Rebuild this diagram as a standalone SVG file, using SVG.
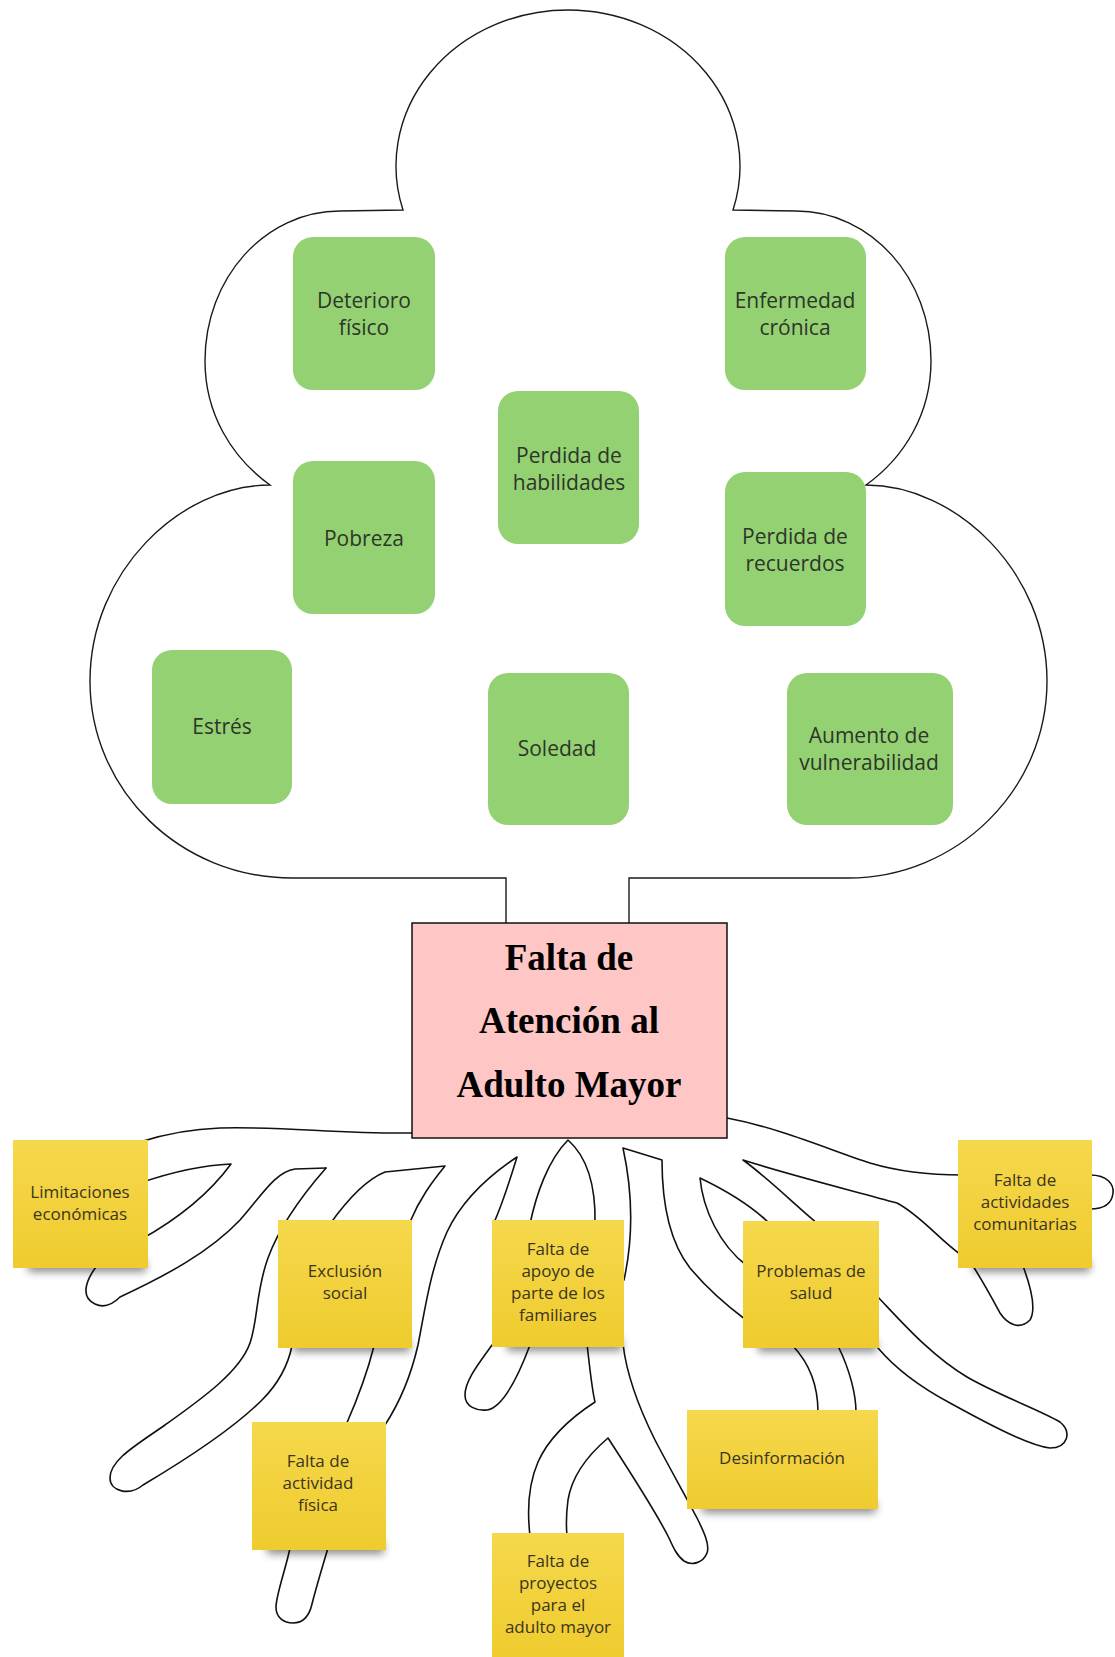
<svg xmlns="http://www.w3.org/2000/svg" width="1115" height="1657" viewBox="0 0 1115 1657">
<style>
.outline{fill:#fff;stroke:#1a1a1a;stroke-width:1.4}
.root{fill:none;stroke:#111;stroke-width:1.6;stroke-linecap:round;stroke-linejoin:round}
.leaf{fill:#94d173}
.lt{font-family:"Open Sans","Liberation Sans",sans-serif;font-size:21px;fill:#2d3629;text-anchor:middle}
.sticky{fill:url(#yg)}
.sh{fill:#000;opacity:0.45;filter:url(#blur)}
.st{font-family:"Open Sans","Liberation Sans",sans-serif;font-size:17px;fill:#3a3520;text-anchor:middle}
.core{fill:#ffc6c6;stroke:#111;stroke-width:1.5}
.ct{font-family:"Liberation Serif","Times New Roman",serif;font-size:37px;font-weight:bold;fill:#000;text-anchor:middle}
</style>
<defs>
<linearGradient id="yg" x1="0" y1="0" x2="0" y2="1">
<stop offset="0" stop-color="#f5d84c"/>
<stop offset="1" stop-color="#efcb2e"/>
</linearGradient>
<filter id="blur" x="-20%" y="-100%" width="140%" height="300%"><feGaussianBlur stdDeviation="4"/></filter>
</defs>
<rect width="1115" height="1657" fill="#fff"/>

<g id="tree-crown">
<path class="outline" d="M506,923 L506,878 L292,878 C180,878 90,790 90,681 C90,572 180,485 270,485 C231,457 205,413 205,361 C205,278 265,211 340,211 L403,210 A172,156 0 1 1 733,210 L796,211 C871,211 931,278 931,361 C931,413 905,457 866,485 C956,485 1047,572 1047,681 C1047,790 957,878 848,878 L629,878 L629,923"/>
</g>

<g id="n-deterioro"><rect class="leaf" x="293" y="237" width="142" height="153" rx="20"/><text class="lt"><tspan x="364" y="308">Deterioro</tspan><tspan x="364" y="335">físico</tspan></text></g>
<g id="n-enfermedad"><rect class="leaf" x="725" y="237" width="141" height="153" rx="20"/><text class="lt"><tspan x="795" y="308">Enfermedad</tspan><tspan x="795" y="335">crónica</tspan></text></g>
<g id="n-habilidades"><rect class="leaf" x="498" y="391" width="141" height="153" rx="20"/><text class="lt"><tspan x="569" y="463">Perdida de</tspan><tspan x="569" y="490">habilidades</tspan></text></g>
<g id="n-pobreza"><rect class="leaf" x="293" y="461" width="142" height="153" rx="20"/><text class="lt"><tspan x="364" y="546">Pobreza</tspan></text></g>
<g id="n-recuerdos"><rect class="leaf" x="725" y="472" width="141" height="154" rx="20"/><text class="lt"><tspan x="795" y="544">Perdida de</tspan><tspan x="795" y="571">recuerdos</tspan></text></g>
<g id="n-estres"><rect class="leaf" x="152" y="650" width="140" height="154" rx="20"/><text class="lt"><tspan x="222" y="734">Estrés</tspan></text></g>
<g id="n-soledad"><rect class="leaf" x="488" y="673" width="141" height="152" rx="20"/><text class="lt"><tspan x="557" y="756">Soledad</tspan></text></g>
<g id="n-vulnerabilidad"><rect class="leaf" x="787" y="673" width="166" height="152" rx="20"/><text class="lt"><tspan x="869" y="743">Aumento de</tspan><tspan x="869" y="770">vulnerabilidad</tspan></text></g>

<g id="connectors">
<path class="root" d="M412,1133 C340,1134 280,1126 220,1128 C190,1129 165,1134 140,1142"/>
<path class="root" d="M140,1183 C175,1171 205,1165 231,1164 C212,1190 185,1215 140,1240"/>
<path class="root" d="M100,1262 C88,1276 78,1296 95,1304 C105,1309 114,1303 120,1297 C165,1276 210,1252 240,1220 C262,1195 275,1172 295,1169 L326,1168"/>
<path class="root" d="M326,1168 C305,1192 280,1225 268,1258 C256,1290 258,1320 250,1343 C240,1372 200,1400 165,1425 C135,1446 110,1460 110,1478 C110,1492 130,1496 143,1485 C175,1466 230,1432 262,1400 C280,1382 288,1365 292,1346"/>
<path class="root" d="M330,1224 C345,1203 365,1180 385,1172 L445,1166 C432,1182 420,1198 410,1222"/>
<path class="root" d="M493,1225 C502,1205 510,1180 517,1157 C490,1175 462,1200 447,1232 C430,1270 425,1310 418,1345 C410,1380 398,1405 385,1425"/>
<path class="root" d="M374,1346 C368,1370 357,1400 346,1425"/>
<path class="root" d="M290,1548 C286,1568 276,1595 276,1607 C276,1618 284,1623 293,1623 C303,1623 309,1617 312,1604 C316,1588 322,1568 328,1548"/>
<path class="root" d="M530,1224 C536,1195 548,1160 568,1140 C585,1155 596,1180 595,1224"/>
<path class="root" d="M624,1280 C636,1225 630,1180 623,1148 L662,1160 C662,1200 668,1240 690,1268 C710,1292 730,1308 746,1320"/>
<path class="root" d="M623,1344 C627,1378 640,1410 655,1440 C668,1465 685,1495 697,1518 C704,1532 710,1545 707,1553 C703,1563 692,1566 684,1561 C677,1556 673,1547 669,1538 C655,1510 630,1472 608,1438 C588,1455 572,1475 568,1500 C566,1515 566,1525 567,1536"/>
<path class="root" d="M587,1344 C590,1370 592,1390 595,1402 C575,1415 550,1435 538,1462 C528,1485 527,1510 530,1536"/>
<path class="root" d="M492,1345 C480,1362 465,1380 465,1395 C465,1407 477,1411 487,1410 C500,1408 515,1385 530,1345"/>
<path class="root" d="M793,1346 C808,1362 818,1385 818,1412"/>
<path class="root" d="M838,1346 C850,1370 856,1395 856,1412"/>
<path class="root" d="M876,1295 C900,1320 930,1355 967,1377 C1000,1396 1040,1410 1060,1422 C1072,1432 1068,1448 1050,1448 C1030,1446 990,1425 950,1403 C920,1387 895,1368 878,1348"/>
<path class="root" d="M960,1254 C940,1240 920,1215 897,1203 C850,1190 790,1175 743,1160 C768,1178 795,1205 818,1224"/>
<path class="root" d="M768,1222 C750,1205 725,1190 700,1178 C703,1210 720,1245 746,1265"/>
<path class="root" d="M727,1118 C780,1128 830,1150 870,1163 C900,1172 930,1175 962,1175"/>
<path class="root" d="M1090,1175 C1108,1175 1114,1185 1113,1193 C1112,1203 1105,1209 1090,1209"/>
<path class="root" d="M973,1266 C985,1285 993,1300 1000,1313 C1008,1325 1020,1330 1030,1320 C1036,1310 1032,1290 1023,1266"/>
</g>

<g id="n-core"><rect class="core" x="412" y="923" width="315" height="215"/><text class="ct"><tspan x="569" y="970">Falta de</tspan><tspan x="569" y="1033">Atención al</tspan><tspan x="569" y="1097">Adulto Mayor</tspan></text></g>

<g id="n-limitaciones"><rect class="sh" x="28" y="1260" width="118" height="12"/><rect class="sticky" x="13" y="1140" width="135" height="128"/><text class="st"><tspan x="80" y="1198">Limitaciones</tspan><tspan x="80" y="1220">económicas</tspan></text></g>
<g id="n-exclusion"><rect class="sh" x="293" y="1340" width="117" height="12"/><rect class="sticky" x="278" y="1220" width="134" height="128"/><text class="st"><tspan x="345" y="1277">Exclusión</tspan><tspan x="345" y="1299">social</tspan></text></g>
<g id="n-apoyo"><rect class="sh" x="507" y="1339" width="115" height="12"/><rect class="sticky" x="492" y="1220" width="132" height="127"/><text class="st"><tspan x="558" y="1255">Falta de</tspan><tspan x="558" y="1277">apoyo de</tspan><tspan x="558" y="1299">parte de los</tspan><tspan x="558" y="1321">familiares</tspan></text></g>
<g id="n-salud"><rect class="sh" x="758" y="1340" width="119" height="12"/><rect class="sticky" x="743" y="1221" width="136" height="127"/><text class="st"><tspan x="811" y="1277">Problemas de</tspan><tspan x="811" y="1299">salud</tspan></text></g>
<g id="n-comunitarias"><rect class="sh" x="973" y="1260" width="117" height="12"/><rect class="sticky" x="958" y="1140" width="134" height="128"/><text class="st"><tspan x="1025" y="1186">Falta de</tspan><tspan x="1025" y="1208">actividades</tspan><tspan x="1025" y="1230">comunitarias</tspan></text></g>
<g id="n-fisica"><rect class="sh" x="267" y="1542" width="117" height="12"/><rect class="sticky" x="252" y="1422" width="134" height="128"/><text class="st"><tspan x="318" y="1467">Falta de</tspan><tspan x="318" y="1489">actividad</tspan><tspan x="318" y="1511">física</tspan></text></g>
<g id="n-desinformacion"><rect class="sh" x="702" y="1501" width="174" height="12"/><rect class="sticky" x="687" y="1410" width="191" height="99"/><text class="st"><tspan x="782" y="1464">Desinformación</tspan></text></g>
<g id="n-proyectos"><rect class="sticky" x="492" y="1533" width="132" height="124"/><text class="st"><tspan x="558" y="1567">Falta de</tspan><tspan x="558" y="1589">proyectos</tspan><tspan x="558" y="1611">para el</tspan><tspan x="558" y="1633">adulto mayor</tspan></text></g>
</svg>
